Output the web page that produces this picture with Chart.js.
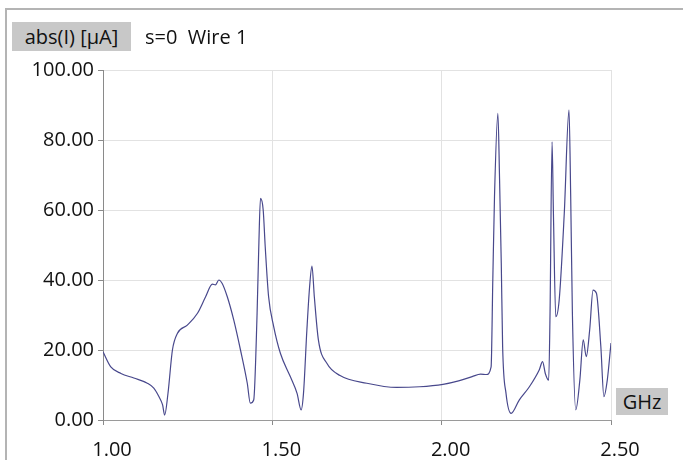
<!DOCTYPE html>
<html>
<head>
<meta charset="utf-8">
<title>abs(I) s=0 Wire 1</title>
<script src="https://cdn.jsdelivr.net/npm/chart.js@4.4.1/dist/chart.umd.min.js"></script>
<style>
  body { margin: 0; background: #fff; }
  #wrap { position: relative; width: 683px; height: 460px; overflow: hidden; font-family: "Open Sans", sans-serif; color: #111; }
  #frame { position: absolute; left: 5px; top: 8px; right: -4px; bottom: -4px; border-top: 2px solid #b4b4b4; border-left: 2px solid #b4b4b4; }
  canvas { position: absolute; left: 0; top: 0; }
  .tag { position: absolute; font-size: 20px; line-height: 29px; white-space: nowrap; }
  .box { background: #c8c8c8; text-align: center; }
</style>
</head>
<body>
<div id="wrap">
  <div id="frame"></div>
  <canvas id="currentChart" width="683" height="460"></canvas>
  <div class="tag box" style="left:12px; top:22px; width:119px; height:29px;">abs(I) [µA]</div>
  <div class="tag" style="left:145px; top:22px;">s=0&nbsp; Wire 1</div>
  <div class="tag box" style="left:616px; top:388px; width:52px; height:27px; line-height:27px;">GHz</div>
</div>
<script>
// ============================
// DATA
// ============================
const freqGHz = [
  1.000, 1.023, 1.053, 1.091, 1.131, 1.150, 1.165, 1.176, 1.182, 1.192,
  1.205, 1.220, 1.249, 1.279, 1.303, 1.323, 1.332, 1.342, 1.352, 1.367,
  1.386, 1.406, 1.426, 1.435, 1.445, 1.455, 1.460, 1.465, 1.473, 1.479,
  1.489, 1.504, 1.524, 1.553, 1.573, 1.585, 1.592, 1.602, 1.610, 1.617,
  1.624, 1.636, 1.661, 1.700, 1.779, 1.867, 1.935, 2.004, 2.050, 2.090,
  2.115, 2.132, 2.146, 2.151, 2.156, 2.166, 2.171, 2.176, 2.180, 2.190,
  2.205, 2.229, 2.259, 2.288, 2.298, 2.306, 2.316, 2.320, 2.326, 2.330,
  2.337, 2.347, 2.362, 2.376, 2.381, 2.386, 2.396, 2.408, 2.418, 2.427,
  2.437, 2.447, 2.457, 2.470, 2.479, 2.489, 2.500
];
const currentUA = [
  19.5, 15.2, 13.3, 12.0, 10.5, 9.1, 6.7, 4.3, 1.4, 7.7,
  20.0, 24.8, 27.1, 30.5, 35.2, 38.8, 38.6, 40.0, 39.0, 35.2,
  28.6, 20.0, 10.5, 4.8, 5.7, 30.5, 49.5, 63.3, 60.0, 49.5,
  35.2, 26.7, 19.0, 12.4, 7.6, 2.9, 7.6, 25.7, 38.0, 44.0,
  35.2, 22.9, 16.2, 12.7, 10.5, 9.3, 9.5, 10.2, 11.2, 12.4,
  13.1, 13.0, 15.2, 40.0, 63.8, 87.6, 68.6, 44.8, 21.0, 7.6,
  1.9, 5.7, 9.5, 14.3, 16.7, 13.3, 11.4, 30.5, 79.5, 59.0,
  29.5, 34.3, 59.0, 88.6, 63.8, 30.5, 2.9, 11.4, 22.9, 18.1,
  25.7, 37.1, 36.2, 21.0, 6.7, 11.4, 22.0
];
const xTicks = [1.0, 1.5, 2.0, 2.5];
const yTicks = [0, 20, 40, 60, 80, 100];

const tickFont = { family: "'Open Sans', sans-serif", size: 20 };

new Chart(document.getElementById("currentChart"), {
  type: "line",
  data: {
    datasets: [{
      label: "abs(I)",
      data: freqGHz.map((f, i) => ({ x: f, y: currentUA[i] })),
      borderColor: "rgb(72,72,140)",
      borderWidth: 1.2,
      pointRadius: 0,
      fill: false,
      cubicInterpolationMode: "monotone",
    }],
  },
  options: {
    responsive: false,
    animation: false,
    layout: { padding: { left: 0, right: 72, top: 70, bottom: 0 } },
    plugins: { legend: { display: false }, tooltip: { enabled: false } },
    scales: {
      x: {
        type: "linear",
        min: xTicks[0],
        max: xTicks[xTicks.length - 1],
        afterBuildTicks: (scale) => { scale.ticks = xTicks.map((v) => ({ value: v })); },
        afterFit: (scale) => { scale.height = 40; },
        grid: { color: "#e2e2e2", tickColor: "#8a8a8a", tickLength: 5 },
        border: { color: "#9a9a9a", width: 1 },
        ticks: {
          color: "#111",
          font: { family: "'Open Sans', sans-serif", size: 20, lineHeight: 1.6 },
          padding: 9,
          labelOffset: 9,
          maxRotation: 0,
          callback: (v) => Number(v).toFixed(2),
        },
      },
      y: {
        min: yTicks[0],
        max: yTicks[yTicks.length - 1],
        afterBuildTicks: (scale) => { scale.ticks = yTicks.map((v) => ({ value: v })); },
        afterFit: (scale) => { scale.width = 103; },
        grid: { color: "#e2e2e2", tickColor: "#8a8a8a", tickLength: 5 },
        border: { color: "#8a8a8a", width: 1 },
        ticks: {
          color: "#111",
          font: tickFont,
          padding: 4,
          callback: (v) => Number(v).toFixed(2),
        },
      },
    },
  },
});
</script>
</body>
</html>
